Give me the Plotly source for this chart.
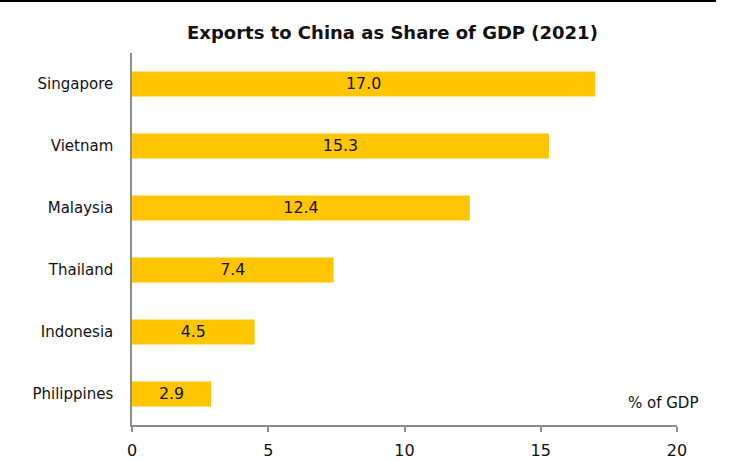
import plotly.graph_objects as go

countries = ["Philippines", "Indonesia", "Thailand", "Malaysia", "Vietnam", "Singapore"]
share_of_gdp = [2.9, 4.5, 7.4, 12.4, 15.3, 17.0]
x_ticks = [0, 5, 10, 15, 20]

FONT = "DejaVu Sans, Liberation Sans, sans-serif"
BAR_COLOR = "#FFC600"
AXIS_COLOR = "#8C8C8C"

fig = go.Figure(
    go.Bar(
        x=share_of_gdp,
        y=countries,
        orientation="h",
        width=0.4,
        marker=dict(color=BAR_COLOR, line=dict(width=0)),
        text=[f"{v:.1f}" for v in share_of_gdp],
        textposition="inside",
        insidetextanchor="middle",
        textfont=dict(family=FONT, size=16, color="#111111"),
        cliponaxis=False,
    )
)

fig.update_layout(
    width=737,
    height=461,
    margin=dict(l=132, r=60, t=53, b=36, autoexpand=False),
    paper_bgcolor="white",
    plot_bgcolor="white",
    showlegend=False,
    font=dict(family=FONT, size=15, color="#111111"),
    xaxis=dict(
        range=[0, 20],
        tickvals=x_ticks,
        showgrid=False,
        zeroline=False,
        showline=True,
        linecolor=AXIS_COLOR,
        linewidth=1.5,
        ticks="outside",
        ticklen=5,
        tickcolor=AXIS_COLOR,
        tickwidth=1.5,
        ticklabelstandoff=5,
        tickfont=dict(size=16),
        automargin=False,
        fixedrange=True,
    ),
    yaxis=dict(
        categoryorder="array",
        categoryarray=countries,
        showgrid=False,
        zeroline=False,
        showline=True,
        linecolor=AXIS_COLOR,
        linewidth=1.5,
        ticks="",
        ticklabelstandoff=14,
        tickfont=dict(size=15),
        automargin=False,
        fixedrange=True,
    ),
    shapes=[
        dict(
            type="line", xref="paper", yref="paper",
            x0=-132 / 545, x1=(716 - 132) / 545, y0=1 + 52 / 372, y1=1 + 52 / 372,
            line=dict(color="black", width=2),
        )
    ],
    annotations=[
        dict(
            text="<b>Exports to China as Share of GDP (2021)</b>",
            xref="paper", yref="paper",
            x=(392 - 132) / 545, y=1 + (53 - 32) / 372,
            xanchor="center", yanchor="middle",
            showarrow=False,
            font=dict(family=FONT, size=18, color="#111111"),
        ),
        dict(
            text="% of GDP",
            xref="paper", yref="paper",
            x=(700 - 132) / 545, y=(425 - 403) / 372,
            xanchor="right", yanchor="middle",
            showarrow=False,
            font=dict(family=FONT, size=15, color="#111111"),
        ),
    ],
)

fig.write_html("out.html")
